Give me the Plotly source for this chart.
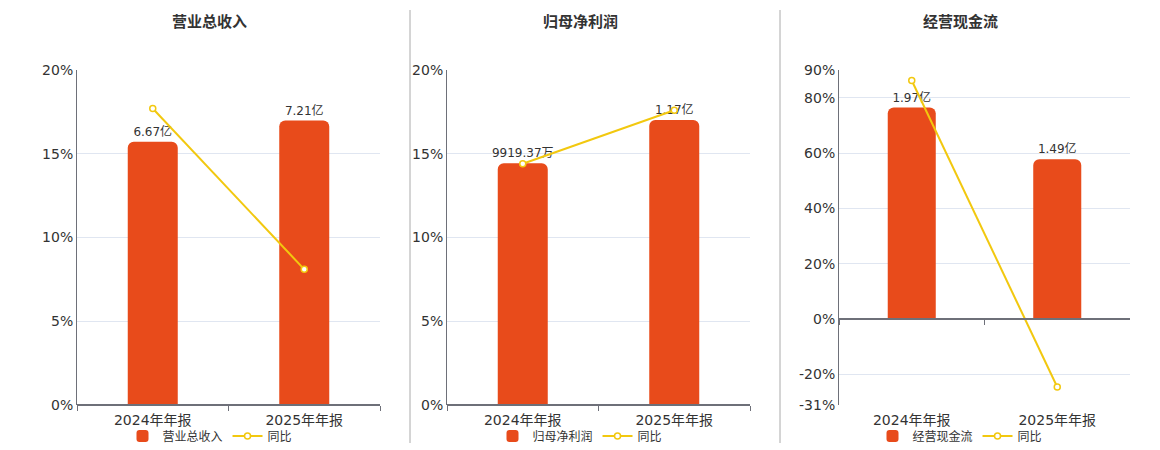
import plotly.graph_objects as go

# data
periods = ["2024年年报", "2025年年报"]
titles = ["营业总收入", "归母净利润", "经营现金流"]

revenue = [6.67, 7.21]            # 亿
net_profit = [0.991937, 1.17]     # 亿
cash_flow = [1.97, 1.49]          # 亿

revenue_yoy = [17.7, 8.1]         # %
net_profit_yoy = [14.4, 17.6]
cash_flow_yoy = [86.2, -24.5]

pct_ranges = [[0, 20], [0, 20], [-31, 90]]
pct_ticks = [[0, 5, 10, 15, 20], [0, 5, 10, 15, 20], [-31, -20, 0, 20, 40, 60, 80, 90]]
bar_max = [8.49, 1.375, 2.32]

bar_color = "#e84b1b"
line_color = "#f2c80f"
text_color = "#333333"
axis_color = "#6e7079"
grid_color = "#e0e6f1"
font_family = "DejaVu Sans, Noto Sans CJK SC, sans-serif"

W, H = 1160, 450
OFF = 8  # page body margin
x_px = [(77, 380), (447, 750), (839, 1130)]
y_px = (70, 405)
centers = [210, 580, 960]


def fx(x):
    return (x - OFF) / W


def fy(y):
    return 1 - (y - OFF) / H


def fmt(v):
    if v < 1:
        return f"{v * 10000:.2f}万"
    return f"{v:.2f}亿"


bars = [revenue, net_profit, cash_flow]
yoys = [revenue_yoy, net_profit_yoy, cash_flow_yoy]

fig = go.Figure()
layout = {}
y_dom = [fy(y_px[1]), fy(y_px[0])]

for i in range(3):
    n = i + 1
    sfx = "" if n == 1 else str(n)
    bar_ax = n + 3          # hidden axis for bar amounts (base)
    lo, hi = pct_ranges[i]
    # bar axis shares zero with percent axis
    bmin = bar_max[i] * lo / hi
    legend_name = "legend" if n == 1 else f"legend{n}"

    fig.add_trace(go.Bar(
        x=periods, y=bars[i], name=titles[i],
        xaxis=f"x{sfx}", yaxis=f"y{bar_ax}",
        marker=dict(color=bar_color, cornerradius=6, line_width=0),
        text=[fmt(v) for v in bars[i]], textposition="outside",
        textfont=dict(size=12, color=text_color),
        constraintext="none",
        cliponaxis=False, width=0.33,
        legend=legend_name,
    ))
    fig.add_trace(go.Scatter(
        x=periods, y=yoys[i], name="同比",
        xaxis=f"x{sfx}", yaxis=f"y{sfx}",
        mode="lines+markers",
        line=dict(color=line_color, width=2),
        marker=dict(size=6, color="white", line=dict(color=line_color, width=1.5)),
        cliponaxis=False,
        legend=legend_name,
    ))

    x_dom = [fx(x_px[i][0]), fx(x_px[i][1])]
    zero_pos = y_dom[0] + (0 - lo) / (hi - lo) * (y_dom[1] - y_dom[0])
    zero_px = (1 - zero_pos) * H + OFF

    layout[f"xaxis{sfx}"] = dict(
        domain=x_dom, anchor="free", position=zero_pos, automargin=False,
        showline=True, linecolor=axis_color, linewidth=1.5,
        ticks="outside", tickson="boundaries", ticklen=5, tickcolor=axis_color,
        tickfont=dict(size=14, color=text_color),
        ticklabelstandoff=int(round(y_px[1] - zero_px)) + 2,
        showgrid=False, fixedrange=True,
    )
    layout[f"yaxis{bar_ax}"] = dict(
        domain=y_dom, anchor=f"x{sfx}", range=[bmin, bar_max[i]], automargin=False,
        visible=False, showgrid=False, fixedrange=True,
    )
    layout[f"yaxis{sfx}"] = dict(
        domain=y_dom, anchor=f"x{sfx}", overlaying=f"y{bar_ax}", side="left",
        automargin=False,
        range=[lo, hi], tickvals=pct_ticks[i],
        ticktext=[f"{t}%" for t in pct_ticks[i]],
        showline=True, linecolor=axis_color, linewidth=1,
        ticks="", tickfont=dict(size=14, color=text_color),
        showgrid=True, gridcolor=grid_color, gridwidth=1,
        zeroline=False, fixedrange=True,
    )
    layout[legend_name] = dict(
        orientation="h", x=fx(centers[i]), xanchor="center",
        y=fy(436), yanchor="middle",
        font=dict(size=12, color=text_color),
        bgcolor="rgba(0,0,0,0)", itemwidth=30, tracegroupgap=0,
    )

annotations = [
    dict(text=f"<b>{t}</b>", x=fx(c), y=fy(22), xref="paper", yref="paper",
         xanchor="center", yanchor="middle", showarrow=False,
         font=dict(size=15, color=text_color))
    for t, c in zip(titles, centers)
]

shapes = [
    dict(type="line", xref="paper", yref="paper", x0=fx(xp), x1=fx(xp),
         y0=fy(443), y1=fy(10), line=dict(color="#aaaaaa", width=1))
    for xp in (410, 780)
]

fig.update_layout(
    **layout,
    annotations=annotations,
    shapes=shapes,
    width=W, height=H,
    margin=dict(l=0, r=0, t=0, b=0, autoexpand=False),
    paper_bgcolor="white", plot_bgcolor="white",
    font=dict(family=font_family, color=text_color),
    barmode="overlay",
    showlegend=True,
)

fig.write_html("out.html")
